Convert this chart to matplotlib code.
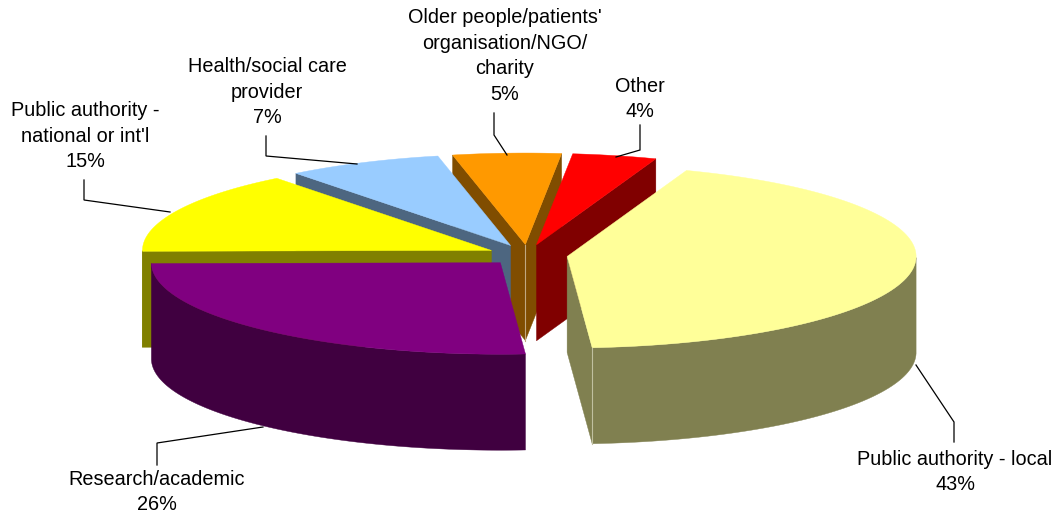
#!/usr/bin/env python3
"""
Exploded 3D-look pie chart of respondent types
"""

import numpy as np
import matplotlib
matplotlib.use('Agg')
import matplotlib.pyplot as plt
from matplotlib.patches import Polygon

# data, clockwise from the first slice (labels show them rounded)
categories = ['Public authority - local', 'Research/academic',
              "Public authority -\nnational or int'l",
              'Health/social care\nprovider',
              "Older people/patients'\norganisation/NGO/\ncharity",
              'Other']
shares = [43.3, 26.0, 14.6, 7.2, 5.0, 3.9]

top_colors = ['#FFFF99', '#800080', '#FFFF00', '#99CCFF', '#FF9900', '#FF0000']
side_colors = ['#808050', '#400040', '#808000', '#4D6680', '#804D00', '#800000']

# label centre (pixels) and leader line for each slice
label_pos = [(955, 472), (157, 492), (85, 136), (267, 92), (505, 56), (640, 99)]
leaders = [[(916, 365), (954, 422), (954, 442)],
           [(263, 427), (157, 443), (157, 465)],
           [(170, 212), (84, 200), (84, 180)],
           [(357, 164), (266, 156), (266, 136)],
           [(507, 155), (494, 135), (494, 113)],
           [(616, 157), (640, 150), (640, 125)]]

# pie geometry in pixels
CX, CY = 527.5, 255
RX, RY = 349, 91.5
DEPTH = 96
EXPLODE = 40
START_ANGLE = 70
DRAW_ORDER = [4, 5, 3, 2, 1, 0]  # back to front


def main():
    fig = plt.figure(figsize=(10.59, 5.22), dpi=100)
    ax = fig.add_axes([0, 0, 1, 1])
    ax.set_xlim(0, 1059)
    ax.set_ylim(522, 0)
    ax.axis('off')

    fractions = np.array(shares) / sum(shares)
    ends = START_ANGLE - 360 * np.cumsum(fractions)
    starts = np.concatenate([[START_ANGLE], ends[:-1]])

    def add_poly(points, color):
        ax.add_patch(Polygon(points, closed=True, facecolor=color, edgecolor=color,
                             linewidth=0.3, joinstyle='miter'))

    for i in DRAW_ORDER:
        t0, t1 = np.radians(starts[i]), np.radians(ends[i])
        mid = (t0 + t1) / 2
        ax0 = CX + EXPLODE * np.cos(mid)
        ay0 = CY - EXPLODE * np.sin(mid) * RY / RX

        t = np.linspace(t0, t1, 120)
        arc = np.column_stack([ax0 + RX * np.cos(t), ay0 - RY * np.sin(t)])
        apex = np.array([ax0, ay0])
        down = np.array([0, DEPTH])

        # cut faces, only where they turn towards the viewer
        start_visible = np.cos(t0) < 0
        end_visible = -np.cos(t1) < 0
        if start_visible:
            add_poly([apex, arc[0], arc[0] + down, apex + down], side_colors[i])
        if end_visible:
            add_poly([apex, arc[-1], arc[-1] + down, apex + down], side_colors[i])

        # outer rim, front half only
        front = arc[np.sin(t) < 0]
        if len(front) > 1:
            add_poly(np.vstack([front, (front + down)[::-1]]), side_colors[i])

        add_poly(np.vstack([apex, arc]), top_colors[i])

        # faint seams on the vertical corners
        if start_visible and end_visible:
            ax.plot([ax0, ax0], [ay0, ay0 + DEPTH], color='#C0A880', lw=0.8)
        if end_visible and len(front) > 1:
            ax.plot([arc[-1][0]] * 2, [arc[-1][1], arc[-1][1] + DEPTH], color='#C0C0A0', lw=0.8)

    for i, cat in enumerate(categories):
        xs, ys = zip(*leaders[i])
        ax.plot(xs, ys, color='black', lw=0.9, solid_joinstyle='miter')
        ax.text(label_pos[i][0], label_pos[i][1], f'{cat}\n{shares[i]:.0f}%', ha='center', va='center',
                family=['Liberation Sans', 'DejaVu Sans'], fontsize=14.3, linespacing=1.45,
                color='black')

    plt.savefig('out.png', dpi=100)


if __name__ == '__main__':
    main()
